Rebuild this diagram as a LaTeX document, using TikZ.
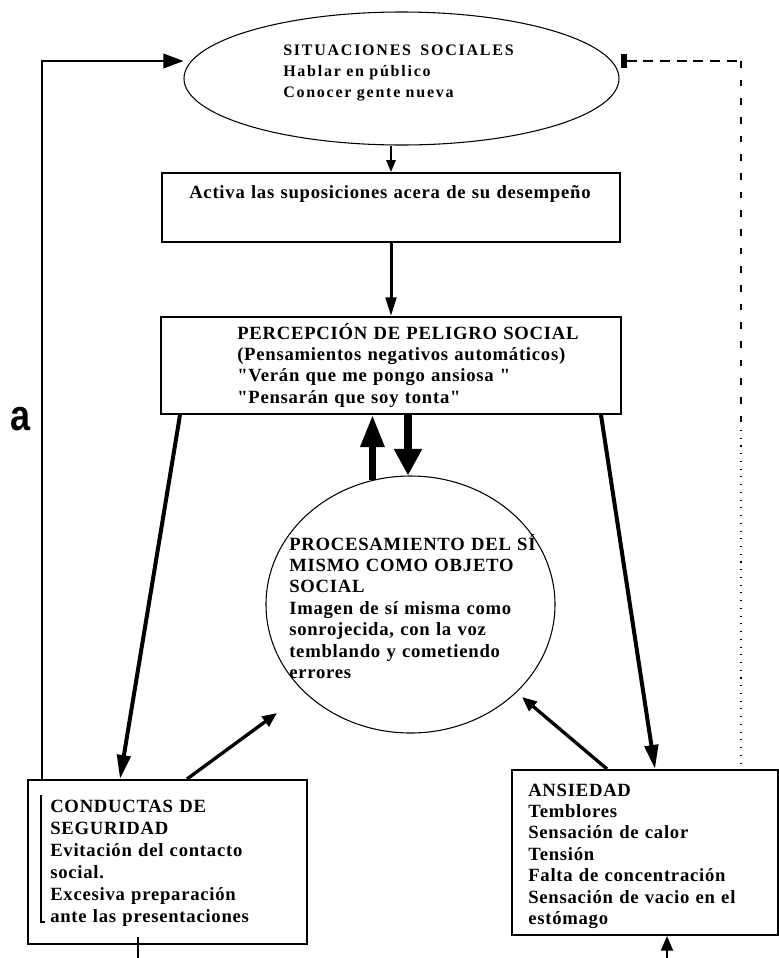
\documentclass[tikz,border=0pt]{standalone}
\usepackage{fontspec}
\usepackage{graphicx}
\setmainfont{Liberation Serif}
\newfontfamily\labelfont{Liberation Sans}
\newfontfamily\spacedfont[LetterSpace=4]{Liberation Serif}
\newfontfamily\widefont[LetterSpace=11]{Liberation Serif}
\usetikzlibrary{shapes.geometric,arrows.meta,calc}
\begin{document}
\begin{tikzpicture}[x=0.75pt,y=-0.75pt,
  box/.style={draw, rectangle, line width=1.5pt, inner sep=0pt},
  oval/.style={draw, ellipse, line width=0.8pt, inner sep=0pt},
  txt/.style={anchor=base west, inner sep=0pt, align=left, text width=400pt,
    font=\spacedfont\bfseries\fontsize{14}{16.05}\selectfont},
  smalltxt/.style={txt, font=\widefont\bfseries\fontsize{12}{15.75}\selectfont},
  condtxt/.style={txt, font=\spacedfont\bfseries\fontsize{14}{16.5}\selectfont},
  arrA/.style={line width=1.5pt, -{Triangle[length=9pt,width=7pt]}},
  arrB/.style={line width=2.25pt, -{Triangle[length=14pt,width=8pt]}},
  arrUp/.style={line width=5.25pt, -{Triangle[length=24pt,width=17pt]}},
  arrDown/.style={line width=6pt, -{Triangle[length=20pt,width=20pt]}},
  arrSide/.style={line width=3pt, -{Triangle[length=18pt,width=10pt]}},
  arrIn/.style={line width=2.5pt, -{Triangle[length=11pt,width=9pt]}},
  arrBot/.style={line width=1.5pt, -{Triangle[length=11pt,width=9pt]}},
  fb/.style={line width=1.1pt, -{Triangle[length=15pt,width=11pt]}},
  dashH/.style={line width=0.9pt, dash pattern=on 7.5pt off 5pt},
  dashV/.style={line width=0.9pt, dash pattern=on 5pt off 9pt},
  dotV/.style={line width=1pt, dash pattern=on 0.8pt off 5pt},
  plain/.style={line width=1pt}
]
\path[use as bounding box] (0,0) rectangle (779,958);

% shapes
\node[oval, minimum width=326.25pt, minimum height=99.75pt] (sit) at (401.5,78.5) {};
\node[box, minimum width=343.5pt, minimum height=51.75pt] (act) at (391,207.5) {};
\node[box, minimum width=345pt, minimum height=72.75pt] (per) at (391,365.5) {};
\node[oval, minimum width=216.75pt, minimum height=192.75pt] (proc) at (410.5,604.5) {};
\node[box, minimum width=209.25pt, minimum height=123pt] (cond) at (167.5,862) {};
\node[box, minimum width=199.5pt, minimum height=123.75pt] (ans) at (645,852.5) {};

% texts
\node[smalltxt] (tsit) at (283,55) {SITUACIONES\hspace{3pt} SOCIALES\\Hablar en público\\Conocer gente nueva};
\node[txt] (tact) at (189,198) {Activa las suposiciones acera de su desempeño};
\node[txt] (tper) at (237,339) {PERCEPCIÓN DE PELIGRO SOCIAL\\(Pensamientos negativos automáticos)\\"Verán que me pongo ansiosa "\\"Pensarán que soy tonta"};
\node[txt] (tproc) at (289,550) {PROCESAMIENTO DEL SÍ\\MISMO COMO OBJETO\\SOCIAL\\Imagen de sí misma como\\sonrojecida, con la voz\\temblando y cometiendo\\errores};
\node[condtxt] (tcond) at (50,812) {CONDUCTAS DE\\SEGURIDAD\\Evitación del contacto\\social.\\Excesiva preparación\\ante las presentaciones};
\node[txt] (tans) at (528,796) {ANSIEDAD\\Temblores\\Sensación de calor\\Tensión\\Falta de concentración\\Sensación de vacio en el\\estómago};
\node[font=\labelfont\bfseries\fontsize{27}{27}\selectfont, anchor=base, inner sep=0pt] (la) at (21,430) {\scalebox{1}[1.2]{a}};

% free ends
\coordinate (c1) at (277,713);
\coordinate (c2) at (522,697);
\coordinate (c3) at (667,958);
\coordinate (c4) at (138,937);
\coordinate (c5) at (138,958);
\coordinate (c6) at (41,795);
\coordinate (c7) at (41,922);
\coordinate (d0) at (741,61);
\coordinate (d1) at (741,430);
\coordinate (d2) at (741,764);

% connectors
\draw[arrA] (act.north |- sit.south) -- (act.north);
\draw[arrB] (act.south) -- (per.north);
\draw[arrUp] (proc.107) -- (proc.107 |- per.south);
\draw[arrDown] ($(per.south)+(17,0)$) -- ($(proc.north)+(-2.5,0)$);
\draw[arrSide] ($(per.south west)+(20,0)$) -- ($(cond.north)+(-47.5,0)$);
\draw[arrSide] ($(per.south east)+(-21,0)$) -- ($(ans.north)+(10,0)$);
\draw[arrIn] ($(cond.north)+(19.5,0)$) -- (c1);
\draw[arrIn] ($(ans.north)+(-38,0)$) -- (c2);
\draw[arrBot] (c3) -- (c3 |- ans.south);
\draw[plain] (c4) -- (c5);
\draw[plain] (c6) -- (c7) -- ++(4,0);
\draw[fb] ($(cond.north west)+(15,0)$) |- ($(sit.west)+(0,-17.5)$);
\draw[dashH, {Rectangle[length=5pt,width=10pt]}-] ($(sit.east)+(1,-17.5)$) -- (d0);
\draw[dashV] (d0) -- (d1);
\draw[dotV] (d1) -- (d2);
\end{tikzpicture}
\end{document}
